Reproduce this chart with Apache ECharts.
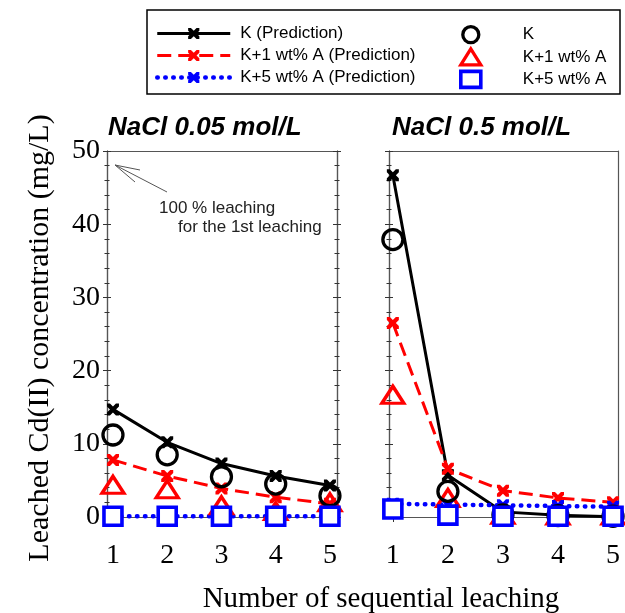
<!DOCTYPE html>
<html><head><meta charset="utf-8">
<script src="https://cdn.jsdelivr.net/npm/echarts@6/dist/echarts.min.js"></script>
<style>html,body{margin:0;padding:0;background:#fff}#c{width:625px;height:613px}</style>
</head><body><div id="c"></div>
<script>
var leachingSteps = [1, 2, 3, 4, 5];
var xTickLabels = [1, 2, 3, 4, 5];
var panelTitles = ['NaCl 0.05 mol/L', 'NaCl 0.5 mol/L'];
var seriesNames = ['K (Prediction)', 'K+1 wt% A (Prediction)', 'K+5 wt% A (Prediction)', 'K', 'K+1 wt% A', 'K+5 wt% A'];
// NaCl 0.05 mol/L
var lowK_pred   = [14.7, 10.2, 7.3, 5.6, 4.3];
var lowK1_pred  = [7.8, 5.6, 3.9, 2.7, 1.8];
var lowK5_pred  = [0.1, 0.1, 0.1, 0.1, 0.1];
var lowK_obs    = [11.2, 8.5, 5.5, 4.5, 2.9];
var lowK1_obs   = [4.4, 3.8, 1.6, 0.8, 2.0];
var lowK5_obs   = [0.1, 0.1, 0.1, 0.1, 0.1];
// NaCl 0.5 mol/L
var highK_pred  = [46.7, 5.7, 0.7, 0.25, 0.05];
var highK1_pred = [26.5, 6.6, 3.6, 2.6, 2.0];
var highK5_pred = [1.8, 1.7, 1.6, 1.5, 1.4];
var highK_obs   = [37.9, 3.5, 0.3, 0.2, 0.1];
var highK1_obs  = [16.7, 2.6, 0.3, 0.2, 0.2];
var highK5_obs  = [1.1, 0.25, 0.1, 0.1, 0.1];

function pairs(v){ return leachingSteps.map(function(x,i){ return [x, v[i]]; }); }
var XPATH = 'path://M0,0 L2.5,0 L5,2.5 L7.5,0 L10,0 L10,2.5 L7.5,5 L10,7.5 L10,10 L7.5,10 L5,7.5 L2.5,10 L0,10 L0,7.5 L2.5,5 L0,2.5 Z';
var serif = 'Liberation Serif', sans = 'Liberation Sans';
var axisCol = '#555', tickCol = '#333';

var markerStyles = [
  {color:'rgba(255,255,255,0)', borderColor:'#000', borderWidth:3.3, opacity:1},
  {color:'rgba(255,255,255,0)', borderColor:'#ff0000', borderWidth:3.3, opacity:1},
  {color:'#fff', borderColor:'#0000ff', borderWidth:3.6, opacity:1}
];
var lineStyles = [
  {color:'#000', width:3},
  {color:'#ff0000', width:3, type:[14,7]},
  {color:'#0000ff', width:4.5, type:[0.5,7.5], cap:'round'}
];
var lineColors = ['#000', '#ff0000', '#0000ff'];

function styleSet(){
  var s = lineStyles.map(function(ls, i){
    return {type:'line', symbol:XPATH, symbolSize:12, showSymbol:true, color:lineColors[i], lineStyle:ls, itemStyle:{color:lineColors[i]}, z:3};
  });
  s.push({type:'scatter', symbol:'circle', symbolSize:20, itemStyle:markerStyles[0], z:5});
  s.push({type:'scatter', symbol:'triangle', symbolSize:[22,17], itemStyle:markerStyles[1], z:4});
  s.push({type:'scatter', symbol:'rect', symbolSize:18, itemStyle:markerStyles[2], z:6});
  return s;
}
var panelData = [
  [lowK_pred, lowK1_pred, lowK5_pred, lowK_obs, lowK1_obs, lowK5_obs],
  [highK_pred, highK1_pred, highK5_pred, highK_obs, highK1_obs, highK5_obs]
];
var series = [];
panelData.forEach(function(arrs, p){
  var st = styleSet();
  arrs.forEach(function(arr, i){
    var s = st[i];
    s.name = seriesNames[i];
    s.data = pairs(arr);
    s.xAxisIndex = p === 0 ? 0 : 2;
    s.yAxisIndex = p === 0 ? 0 : 4;
    s.animation = false;
    series.push(s);
  });
});

function xAx(grid, min, max, pos){
  var bottom = pos === 'bottom';
  return {type:'value', gridIndex:grid, position:pos, min:min, max:max,
    axisLine:{show:true, onZero:false, lineStyle:{color:axisCol, width:1.2}},
    axisTick:{show:bottom, customValues:leachingSteps, length:5, lineStyle:{color:tickCol}},
    axisLabel:{show:bottom, customValues:xTickLabels, fontFamily:serif, fontSize:28, color:'#000', margin:25},
    splitLine:{show:false}};
}
function yAx(grid, pos, inside, labels, ticks){
  return {type:'value', gridIndex:grid, position:pos, min:0, max:50, interval:10,
    axisLine:{show:true, lineStyle:{color:axisCol, width:1.2}},
    axisTick:{show:ticks, inside:inside, length:4, lineStyle:{color:tickCol}},
    minorTick:{show:ticks, splitNumber:5, length:2.5, lineStyle:{color:tickCol}},
    axisLabel:{show:labels, fontFamily:serif, fontSize:28, color:'#000', margin:7},
    splitLine:{show:false}};
}

var legendLineData = seriesNames.slice(0,3).map(function(n, i){
  return {name:n, lineStyle:lineStyles[i], itemStyle:{color:lineColors[i]}};
});
var legendMarkerData = seriesNames.slice(3).map(function(n, i){
  return {name:n, itemStyle:markerStyles[i]};
});

var option = {
  backgroundColor:'#fff',
  animation:false,
  title:[
    {text:panelTitles[0], left:103, top:110, textStyle:{fontFamily:sans, fontSize:26, fontStyle:'italic', fontWeight:'bold', color:'#000'}},
    {text:panelTitles[1], left:387, top:110, textStyle:{fontFamily:sans, fontSize:26, fontStyle:'italic', fontWeight:'bold', color:'#000'}}
  ],
  legend:[
    {data:legendLineData, orient:'vertical', left:150, top:20, itemWidth:73, itemHeight:14, itemGap:5,
     textStyle:{fontFamily:sans, fontSize:17, color:'#000', padding:[0,0,0,5]}},
    {data:legendMarkerData, orient:'vertical', left:454, top:20, itemWidth:20, itemHeight:16, itemGap:3,
     textStyle:{fontFamily:sans, fontSize:17, color:'#000', padding:[0,0,0,37]}}
  ],
  grid:[
    {left:107, top:151, width:230, height:366},
    {left:389, top:151, width:229, height:366}
  ],
  xAxis:[ xAx(0,0.89,5.13,'bottom'), xAx(0,0.89,5.13,'top'), xAx(1,0.93,5.09,'bottom'), xAx(1,0.93,5.09,'top') ],
  yAxis:[
    yAx(0,'left',false,true,true), yAx(0,'left',true,false,true),
    yAx(0,'right',false,false,true), yAx(0,'right',true,false,true),
    yAx(1,'left',false,false,true), yAx(1,'left',true,false,true),
    yAx(1,'right',false,false,false)
  ],
  series: series,
  graphic:[
    {type:'rect', shape:{x:147, y:10, width:473, height:84}, style:{fill:'none', stroke:'#000', lineWidth:1.5}, z:0},
    {type:'line', shape:{x1:167, y1:192, x2:115, y2:165}, style:{stroke:'#555', lineWidth:1}},
    {type:'line', shape:{x1:115, y1:165, x2:140, y2:170}, style:{stroke:'#555', lineWidth:1}},
    {type:'line', shape:{x1:115, y1:165, x2:135, y2:182}, style:{stroke:'#555', lineWidth:1}},
    {type:'text', x:159, y:208, style:{text:'100 % leaching', font:'17px "Liberation Sans"', fill:'#222', textVerticalAlign:'middle'}},
    {type:'text', x:178, y:227, style:{text:'for the 1st leaching', font:'17px "Liberation Sans"', fill:'#222', textVerticalAlign:'middle'}},
    {type:'text', x:381, y:599, style:{text:'Number of sequential leaching', font:'29px "Liberation Serif"', fill:'#000', textAlign:'center', textVerticalAlign:'middle'}},
    {type:'text', x:40, y:338, rotation:Math.PI/2, style:{text:'Leached Cd(II) concentration (mg/L)', font:'30px "Liberation Serif"', fill:'#000', textAlign:'center', textVerticalAlign:'middle'}}
  ]
};
var chart = echarts.init(document.getElementById('c'), null, {renderer:'canvas'});
chart.setOption(option);
</script></body></html>
